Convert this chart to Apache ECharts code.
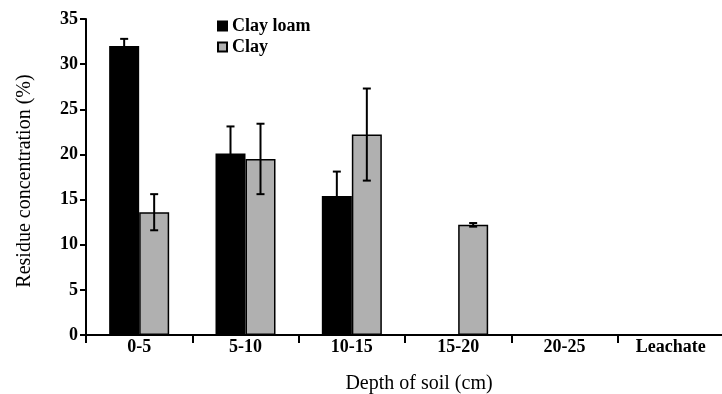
<!DOCTYPE html>
<html>
<head>
<meta charset="utf-8">
<title>Residue concentration by soil depth</title>
<script src="https://cdn.jsdelivr.net/npm/echarts@6/dist/echarts.min.js"></script>
<style>
  html, body { margin: 0; padding: 0; background: #fff; }
  #chart { width: 722px; height: 394px; }
</style>
</head>
<body>
<div id="chart"></div>
<script>
// Soil depth layers (cm) and the leachate fraction
const depths = ['0-5', '5-10', '10-15', '15-20', '20-25', 'Leachate'];

// Mean residue concentration (%) per layer
const clayLoamMean = [32.0, 20.1, 15.4, null, null, null];
const clayMean     = [13.6, 19.5, 22.2, 12.2, null, null];

// Standard deviation for each mean
const clayLoamErr = [0.8, 3.0, 2.7, null, null, null];
const clayErr     = [2.0, 3.9, 5.1, 0.2, null, null];

const yTicks = { min: 0, max: 35, interval: 5 };

const FONT = '"Liberation Serif", "Times New Roman", serif';
const BAR_W = 30;

function errorData(means, errs) {
  const out = [];
  means.forEach((m, i) => {
    if (m != null && errs[i] != null) out.push([i, m, errs[i]]);
  });
  return out;
}

// Draws a vertical whisker with caps, shifted onto the bar of one series
function errorRenderer(offset) {
  return function (params, api) {
    const i = api.value(0), m = api.value(1), e = api.value(2);
    const top = api.coord([i, m + e]);
    const bot = api.coord([i, m - e]);
    const x = top[0] + offset;
    const cap = 4;
    const style = { stroke: '#000', lineWidth: 2 };
    return {
      type: 'group',
      children: [
        { type: 'line', shape: { x1: x, y1: top[1], x2: x, y2: bot[1] }, style },
        { type: 'line', shape: { x1: x - cap, y1: top[1], x2: x + cap, y2: top[1] }, style },
        { type: 'line', shape: { x1: x - cap, y1: bot[1], x2: x + cap, y2: bot[1] }, style }
      ]
    };
  };
}

const chart = echarts.init(document.getElementById('chart'), null, { renderer: 'canvas' });

chart.setOption({
  animation: false,
  backgroundColor: '#fff',
  textStyle: { fontFamily: FONT, color: '#000' },
  grid: { left: 86, right: -2, top: 19, bottom: 59, containLabel: false, outerBoundsMode: 'none' },
  legend: {
    orient: 'vertical',
    left: 212,
    top: 12,
    itemWidth: 9,
    itemHeight: 9,
    itemGap: 3,
    icon: 'rect',
    data: ['Clay loam', 'Clay'],
    textStyle: { fontFamily: FONT, fontSize: 18, fontWeight: 'bold', color: '#000' }
  },
  xAxis: {
    type: 'category',
    data: depths,
    name: 'Depth of soil (cm)',
    nameLocation: 'middle',
    nameGap: 39,
    nameTextStyle: { fontFamily: FONT, fontSize: 20, color: '#000', padding: [0, 0, 0, 28] },
    axisLine: { lineStyle: { color: '#000', width: 2 } },
    axisTick: { show: true, length: 8, interval: 0, lineStyle: { color: '#000', width: 2 } },
    axisLabel: { fontFamily: FONT, fontSize: 18, fontWeight: 'bold', color: '#000', margin: 3, interval: 0 },
    splitLine: { show: false }
  },
  yAxis: {
    type: 'value',
    min: yTicks.min,
    max: yTicks.max,
    interval: yTicks.interval,
    name: 'Residue concentration (%)',
    nameLocation: 'middle',
    nameGap: 51,
    nameTextStyle: { fontFamily: FONT, fontSize: 20, color: '#000', padding: [0, 8, 0, 0] },
    axisLine: { show: true, lineStyle: { color: '#000', width: 2 } },
    axisTick: { show: true, length: 6, lineStyle: { color: '#000', width: 2 } },
    axisLabel: { fontFamily: FONT, fontSize: 18, fontWeight: 'bold', color: '#000', margin: 8 },
    splitLine: { show: false }
  },
  series: [
    {
      name: 'Clay loam',
      type: 'bar',
      data: clayLoamMean,
      barWidth: BAR_W,
      barGap: '0%',
      itemStyle: { color: '#000', borderColor: '#000', borderWidth: 1.5 },
      z: 2
    },
    {
      name: 'Clay',
      type: 'bar',
      data: clayMean,
      barWidth: BAR_W,
      barGap: '0%',
      itemStyle: { color: '#b0b0b0', borderColor: '#000', borderWidth: 1.5 },
      z: 2
    },
    {
      name: 'Clay loam SD',
      type: 'custom',
      renderItem: errorRenderer(-BAR_W / 2),
      data: errorData(clayLoamMean, clayLoamErr),
      z: 5,
      silent: true
    },
    {
      name: 'Clay SD',
      type: 'custom',
      renderItem: errorRenderer(BAR_W / 2),
      data: errorData(clayMean, clayErr),
      z: 5,
      silent: true
    }
  ]
});
</script>
</body>
</html>
